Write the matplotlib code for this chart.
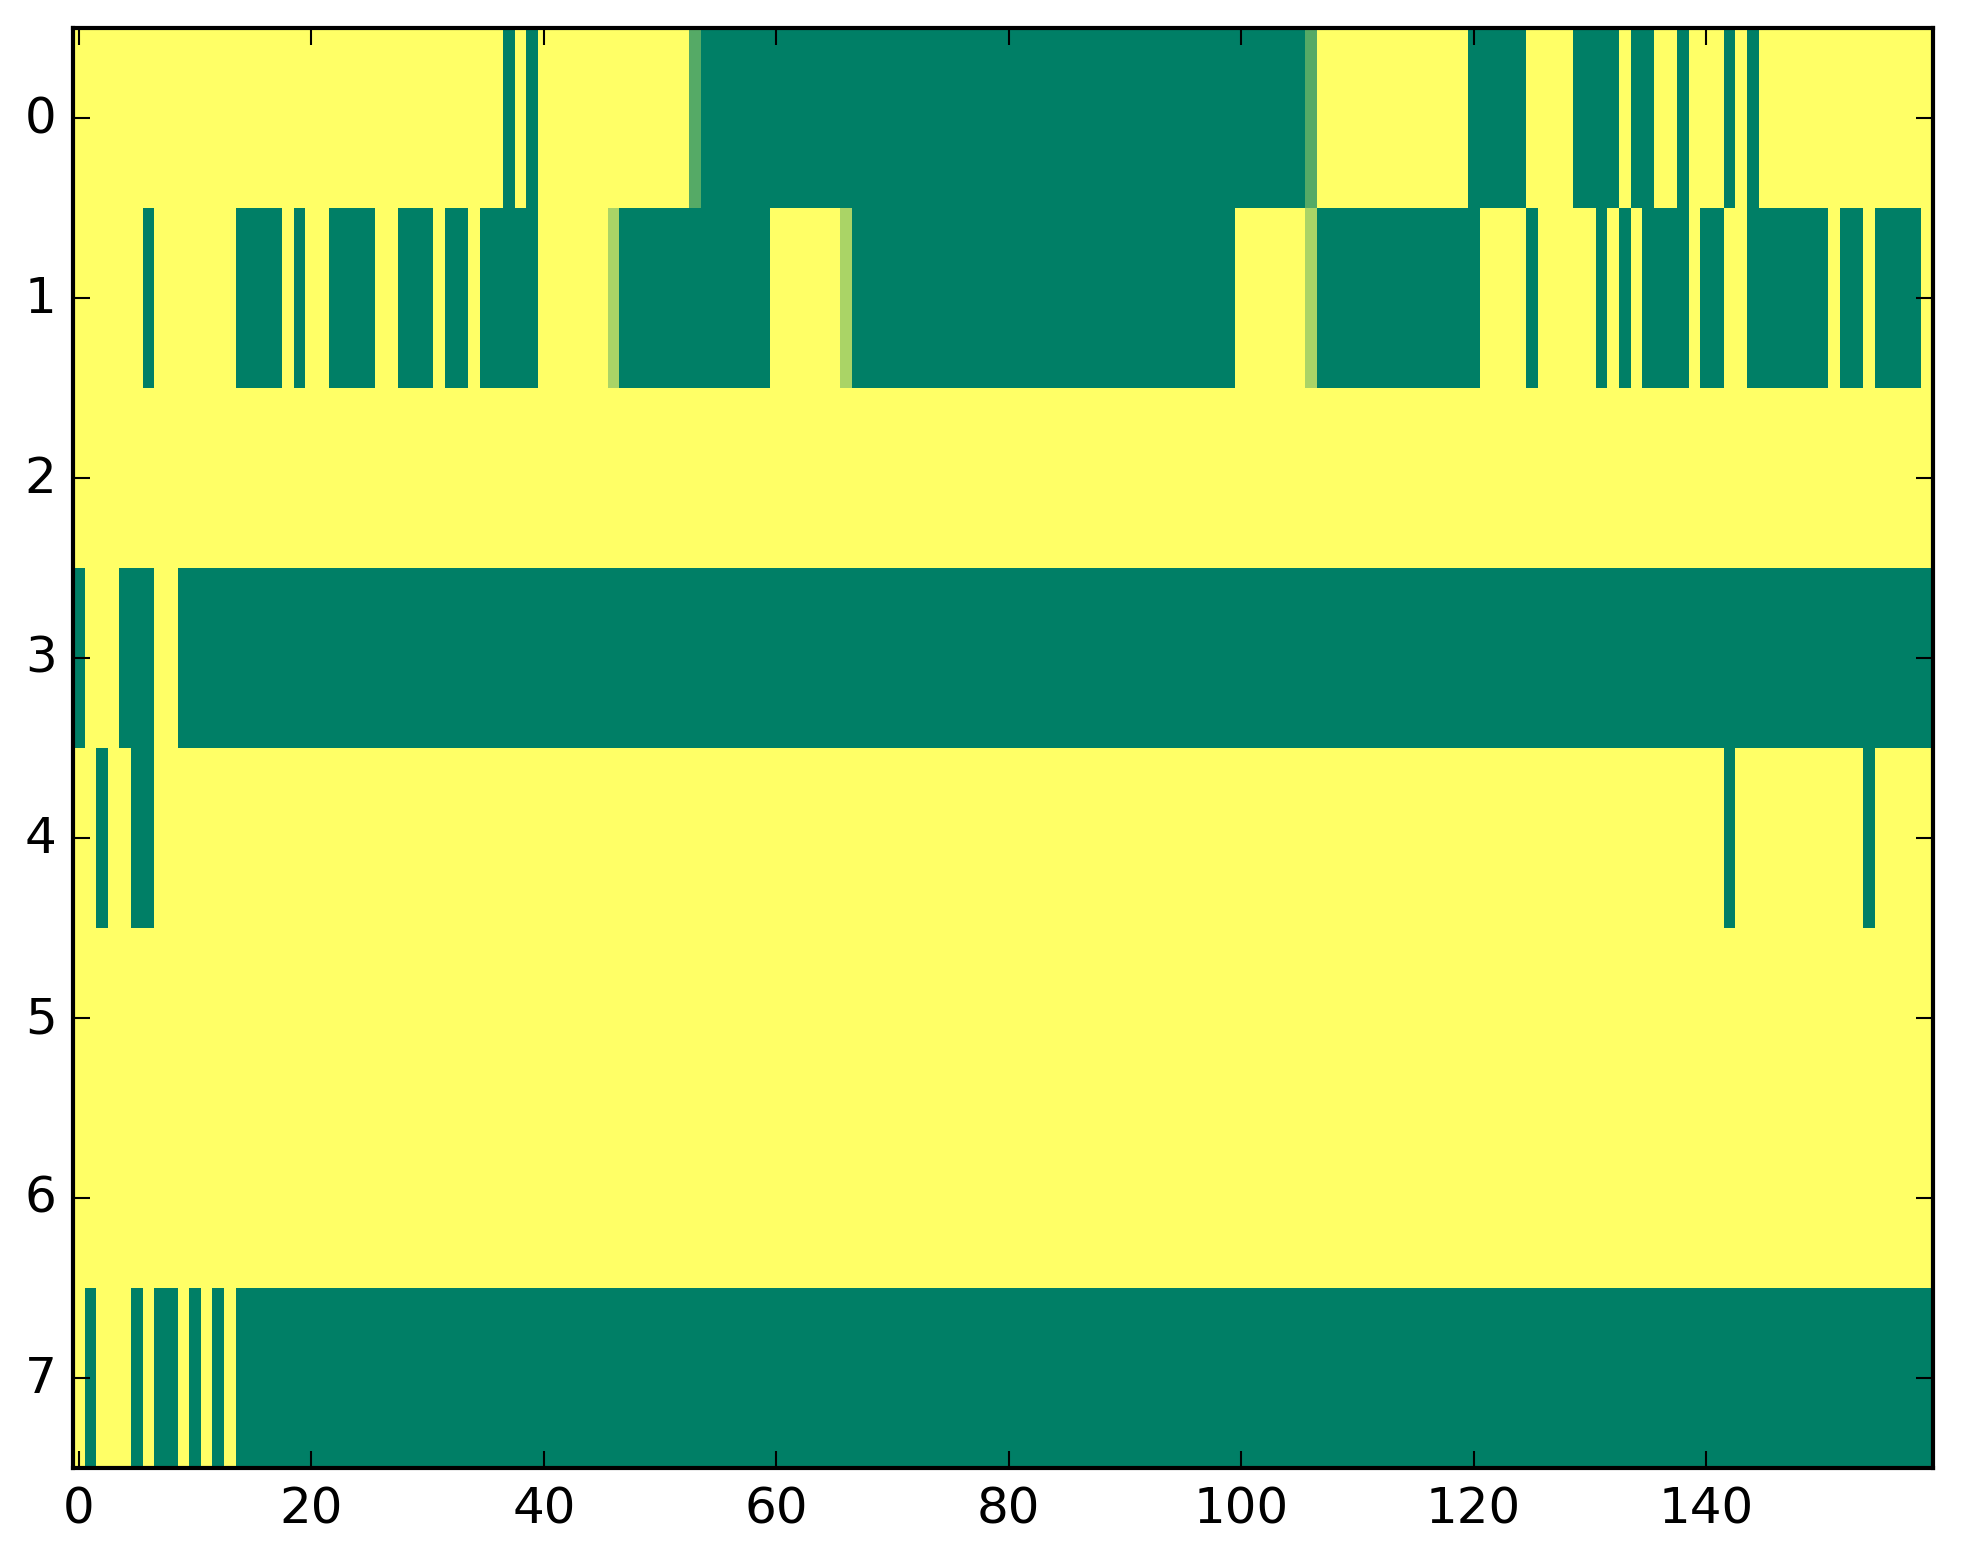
import numpy as np
import matplotlib
matplotlib.use('Agg')
import matplotlib.pyplot as plt

# each row as runs of (value, number of columns)
row0 = [(1, 37), (0, 1), (1, 1), (0, 1), (1, 13), (1/3, 1), (0, 52), (1/3, 1),
        (1, 13), (0, 5), (1, 4), (0, 4), (1, 1), (0, 2), (1, 2), (0, 1),
        (1, 3), (0, 1), (1, 1), (0, 1), (1, 15)]
row1 = [(1, 6), (0, 1), (1, 7), (0, 4), (1, 1), (0, 1), (1, 2), (0, 4),
        (1, 2), (0, 3), (1, 1), (0, 2), (1, 1), (0, 5), (1, 6), (2/3, 1),
        (0, 13), (1, 6), (2/3, 1), (0, 33), (1, 6), (2/3, 1), (0, 14),
        (1, 4), (0, 1), (1, 5), (0, 1), (1, 1), (0, 1), (1, 1), (0, 4),
        (1, 1), (0, 2), (1, 2), (0, 7), (1, 1), (0, 2), (1, 1), (0, 4), (1, 1)]
row2 = [(1, 160)]
row3 = [(0, 1), (1, 3), (0, 3), (1, 2), (0, 151)]
row4 = [(1, 2), (0, 1), (1, 2), (0, 2), (1, 135), (0, 1), (1, 11), (0, 1), (1, 5)]
row5 = [(1, 160)]
row6 = [(1, 160)]
row7 = [(1, 1), (0, 1), (1, 3), (0, 1), (1, 1), (0, 2), (1, 1), (0, 1),
        (1, 1), (0, 1), (1, 1), (0, 146)]

rows = [row0, row1, row2, row3, row4, row5, row6, row7]


def expand(runs):
    '''
        Turn a list of runs into a flat row of cell values
    '''
    out = []
    for value, count in runs:
        out.extend([value] * count)
    return out


data = np.array([expand(r) for r in rows])

plt.style.use('classic')
fig = plt.figure(figsize=(1963 / 300, 1564 / 300), dpi=300, facecolor='white')
ax = fig.add_axes([73.2 / 1963, 1 - 1469 / 1564, 1859.5 / 1963, 1440 / 1564])

ax.imshow(data, cmap='summer', vmin=0, vmax=1, aspect='auto',
          interpolation='nearest')
ax.set_yticks(range(8))

fig.savefig('out.png', dpi=300, facecolor='white')
